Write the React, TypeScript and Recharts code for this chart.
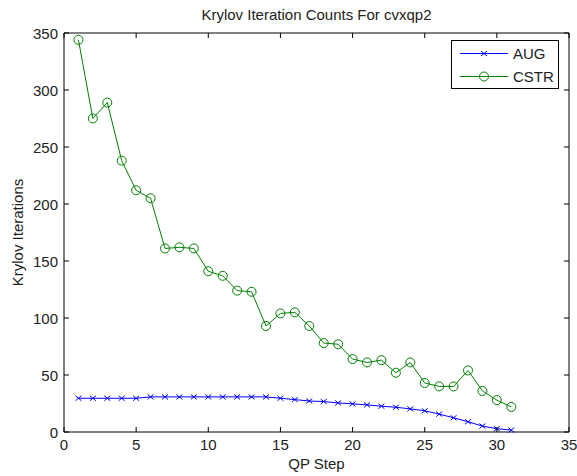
import { LineChart, Line, XAxis, YAxis, ReferenceArea } from "recharts"

// QP step index
const qpSteps = [
  1, 2, 3, 4, 5, 6, 7, 8, 9, 10, 11, 12, 13, 14, 15, 16, 17, 18, 19, 20, 21, 22, 23, 24, 25, 26, 27, 28, 29,
  30, 31,
]
// Krylov iterations, AUG preconditioner
const augIters = [
  29.6, 29.6, 29.6, 29.6, 29.6, 30.8, 30.8, 30.8, 30.8, 30.8, 30.8, 30.8, 30.8, 30.8, 29.6, 28.4, 27.2, 26.7,
  25.5, 24.7, 23.8, 22.6, 21.7, 20.3, 18.6, 15.7, 12.5, 9, 5.2, 2.9, 1.7,
]
// Krylov iterations, CSTR preconditioner
const cstrIters = [
  344, 275, 289, 238, 212, 205, 161, 162, 161, 141, 137, 124, 123, 93, 104, 105, 93, 78, 77, 64, 61, 63, 52,
  61, 43, 40, 40, 54, 36, 28, 22,
]
const xTicks = [0, 5, 10, 15, 20, 25, 30, 35]
const yTicks = [0, 50, 100, 150, 200, 250, 300, 350]

const series = [
  { key: "aug", name: "AUG", color: "#0000ff", marker: "x" },
  { key: "cstr", name: "CSTR", color: "#008000", marker: "o" },
]

const data = qpSteps.map((s, i) => ({ step: s, aug: augIters[i], cstr: cstrIters[i] }))

const W = 577
const H = 476
const PLOT = { left: 64, right: 569, top: 33, bottom: 432 }
const FONT = "'Liberation Sans', Arial, Helvetica, sans-serif"
const TEXT = "#222"
const TICK = 5

const XTick = (props: any) => {
  const { x, payload } = props
  return (
    <g>
      <line x1={x} x2={x} y1={PLOT.bottom} y2={PLOT.bottom - TICK} stroke="#000" />
      <line x1={x} x2={x} y1={PLOT.top} y2={PLOT.top + TICK} stroke="#000" />
      <text x={x} y={450} textAnchor="middle" fontSize={15} fontFamily={FONT} fill={TEXT}>
        {payload.value}
      </text>
    </g>
  )
}

const YTick = (props: any) => {
  const { y, payload } = props
  return (
    <g>
      <line x1={PLOT.left} x2={PLOT.left + TICK} y1={y} y2={y} stroke="#000" />
      <line x1={PLOT.right} x2={PLOT.right - TICK} y1={y} y2={y} stroke="#000" />
      <text x={58} y={y} textAnchor="end" dominantBaseline="central" fontSize={15} fontFamily={FONT} fill={TEXT}>
        {payload.value}
      </text>
    </g>
  )
}

const XMark = (props: any) => {
  const { cx, cy, index } = props
  return (
    <path
      key={`x-${index}`}
      d={`M${cx - 3},${cy - 2.5}L${cx + 3},${cy + 2.5}M${cx - 3},${cy + 2.5}L${cx + 3},${cy - 2.5}`}
      stroke="#0000ff"
      strokeWidth={1}
      fill="none"
    />
  )
}

function LegendBox() {
  return (
    <svg
      width={108}
      height={49}
      style={{ position: "absolute", left: 451, top: 40, display: "block" }}
    >
      <rect x={0.5} y={0.5} width={107} height={48} fill="#fff" stroke="#000" />
      {series.map((s, i) => {
        const cy = 13.5 + i * 23
        return (
          <g key={s.key}>
            <line x1={9} x2={57} y1={cy} y2={cy} stroke={s.color} />
            {s.marker === "o" ? (
              <circle cx={33} cy={cy} r={4.5} fill="none" stroke={s.color} />
            ) : (
              <path d={`M30,${cy - 2.5}L36,${cy + 2.5}M30,${cy + 2.5}L36,${cy - 2.5}`} stroke={s.color} />
            )}
            <text x={62} y={cy} dominantBaseline="central" fontSize={15} fontFamily={FONT} fill={TEXT}>
              {s.name}
            </text>
          </g>
        )
      })}
    </svg>
  )
}

export default function App() {
  return (
    <div style={{ position: "absolute", left: 0, top: 0, width: W, height: H, background: "#fff" }}>
      <LineChart
        width={W}
        height={H}
        data={data}
        margin={{ top: PLOT.top, right: W - PLOT.right, bottom: 0, left: 0 }}
      >
        <XAxis
          dataKey="step"
          type="number"
          domain={[0, 35]}
          ticks={xTicks}
          height={H - PLOT.bottom}
          axisLine={false}
          tickLine={false}
          tick={<XTick />}
          interval={0}
        />
        <YAxis
          type="number"
          domain={[0, 350]}
          ticks={yTicks}
          width={PLOT.left}
          axisLine={false}
          tickLine={false}
          tick={<YTick />}
          interval={0}
        />
        <ReferenceArea x1={0} x2={35} y1={0} y2={350} fill="none" stroke="#000" strokeWidth={1} ifOverflow="visible" />
        <Line
          type="linear"
          dataKey="aug"
          name="AUG"
          stroke="#0000ff"
          strokeWidth={1}
          dot={<XMark />}
          activeDot={false}
          isAnimationActive={false}
        />
        <Line
          type="linear"
          dataKey="cstr"
          name="CSTR"
          stroke="#008000"
          strokeWidth={1}
          dot={{ r: 4.5, fill: "none", stroke: "#008000", strokeWidth: 1 }}
          activeDot={false}
          isAnimationActive={false}
        />
        <text x={(PLOT.left + PLOT.right) / 2} y={20} textAnchor="middle" fontSize={15} fontFamily={FONT} fill={TEXT}>
          Krylov Iteration Counts For cvxqp2
        </text>
        <text x={(PLOT.left + PLOT.right) / 2} y={469} textAnchor="middle" fontSize={15} fontFamily={FONT} fill={TEXT}>
          QP Step
        </text>
        <text
          x={17}
          y={(PLOT.top + PLOT.bottom) / 2}
          textAnchor="middle"
          dominantBaseline="central"
          transform={`rotate(-90 17 ${(PLOT.top + PLOT.bottom) / 2})`}
          fontSize={15}
          fontFamily={FONT}
          fill={TEXT}
        >
          Krylov Iterations
        </text>
      </LineChart>
      <LegendBox />
    </div>
  )
}
